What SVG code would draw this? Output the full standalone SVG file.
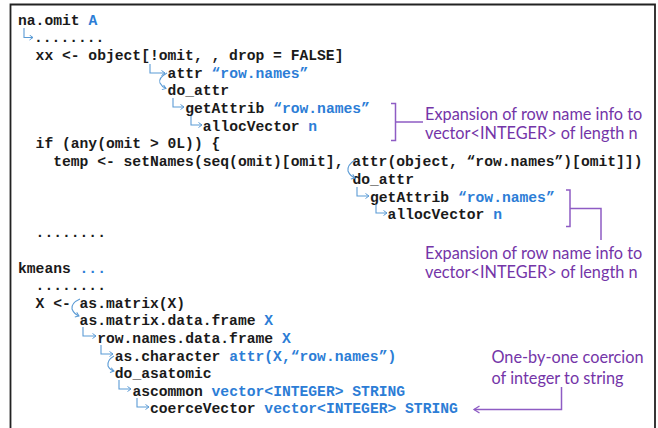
<svg xmlns="http://www.w3.org/2000/svg" width="658" height="428" viewBox="0 0 658 428">
<style>
.c{font-family:"Liberation Mono","Courier New",monospace;font-size:14.67px;font-weight:bold;fill:#1a1a1a;white-space:pre}
.b{fill:#2c7dd6}
.lab{font-family:Lato,"Liberation Sans",sans-serif;font-size:16.3px;fill:#7435a8}
.cn{fill:none;stroke:#5b9bd5;stroke-width:1.1;marker-end:url(#ah)}
.br{fill:none;stroke:#8e5cc4;stroke-width:1.5}
</style>
<defs>
<marker id="ah" markerUnits="userSpaceOnUse" markerWidth="8" markerHeight="8" refX="4" refY="3" orient="auto">
<path d="M0.5,0.5 L4,3 L0.5,5.5" fill="none" stroke="#5b9bd5" stroke-width="1"/>
</marker>
<marker id="ahp" markerUnits="userSpaceOnUse" markerWidth="10" markerHeight="10" refX="6" refY="4" orient="auto">
<path d="M0.5,0.5 L6,4 L0.5,7.5" fill="none" stroke="#8e5cc4" stroke-width="1.3"/>
</marker>
</defs>
<rect width="658" height="428" fill="#ffffff"/>
<path d="M10.5,430 V4.5 H655 V430" fill="none" stroke="#222" stroke-width="1.8"/>

<g id="na-omit">
<text class="c" x="18" y="24.5">na.omit <tspan class="b">A</tspan></text>
<text class="c" x="34" y="42.2">........</text>
<text class="c" x="35.6" y="59.9">xx &lt;- object[!omit, , drop = FALSE]</text>
<text class="c" x="167.6" y="77.6">attr <tspan class="b">“row.names”</tspan></text>
<text class="c" x="167.6" y="95.3">do_attr</text>
<text class="c" x="185.2" y="113">getAttrib <tspan class="b">“row.names”</tspan></text>
<text class="c" x="202.8" y="130.7">allocVector <tspan class="b">n</tspan></text>
<text class="c" x="35.6" y="148.4">if (any(omit &gt; 0L)) {</text>
<text class="c" x="53.2" y="166.1">temp &lt;- setNames(seq(omit)[omit], attr(object, “row.names”)[omit]])</text>
<text class="c" x="352.4" y="183.8">do_attr</text>
<text class="c" x="370" y="201.5">getAttrib <tspan class="b">“row.names”</tspan></text>
<text class="c" x="387.6" y="219.2">allocVector <tspan class="b">n</tspan></text>
<text class="c" x="35.6" y="236.9">........</text>
</g>

<g id="kmeans">
<text class="c" x="18" y="272.5">kmeans <tspan class="b">...</tspan></text>
<text class="c" x="35.6" y="290.1">........</text>
<text class="c" x="35.6" y="307.7">X &lt;- as.matrix(X)</text>
<text class="c" x="79.6" y="325.3">as.matrix.data.frame <tspan class="b">X</tspan></text>
<text class="c" x="97.2" y="342.9">row.names.data.frame <tspan class="b">X</tspan></text>
<text class="c" x="114.8" y="360.5">as.character <tspan class="b">attr(X,“row.names”)</tspan></text>
<text class="c" x="114.8" y="378.1">do_asatomic</text>
<text class="c" x="132.4" y="395.7">ascommon <tspan class="b">vector&lt;INTEGER&gt; STRING</tspan></text>
<text class="c" x="150" y="413.3">coerceVector <tspan class="b">vector&lt;INTEGER&gt; STRING</tspan></text>
</g>

<g id="connectors">
<path class="cn" d="M24,28 V37.5 H33"/>
<path class="cn" d="M150,64 V73 H165"/>
<path class="cn" d="M167,73 Q158,78 160,83 Q162,87 166,88.5"/>
<path class="cn" d="M173,98 V107 H184"/>
<path class="cn" d="M191,116 V125 H202"/>
<path class="cn" d="M355,160 Q347,165 348,171 Q350,176 355,178"/>
<path class="cn" d="M357,187 V196 H369"/>
<path class="cn" d="M376,204 V213 H387"/>
<path class="cn" d="M80,299 Q71,303 72,309 Q74,314 79,316"/>
<path class="cn" d="M83,327 V336 H96"/>
<path class="cn" d="M101,345 V354 H113"/>
<path class="cn" d="M114,356 Q107,360 108,366 Q110,370 114,371"/>
<path class="cn" d="M119,380 V389 H131"/>
<path class="cn" d="M137,398 V407 H149"/>
</g>

<g id="note-1">
<path class="br" d="M391,103.5 H395.5 V140.5 H391 M395.5,122 H423"/>
<text class="lab" x="425" y="119.5">Expansion of row name info to</text>
<text class="lab" x="425" y="138.5">vector&lt;INTEGER&gt; of length n</text>
</g>

<g id="note-2">
<path class="br" d="M566,190 H570 V226.5 H566 M570,208.5 H601 V240"/>
<text class="lab" x="425" y="258.5">Expansion of row name info to</text>
<text class="lab" x="425" y="277.5">vector&lt;INTEGER&gt; of length n</text>
</g>

<g id="note-3">
<path class="br" d="M561.5,387 V409.5 H474" marker-end="url(#ahp)"/>
<text class="lab" x="491.5" y="362.5">One-by-one coercion</text>
<text class="lab" x="491.5" y="383.5">of integer to string</text>
</g>
</svg>
